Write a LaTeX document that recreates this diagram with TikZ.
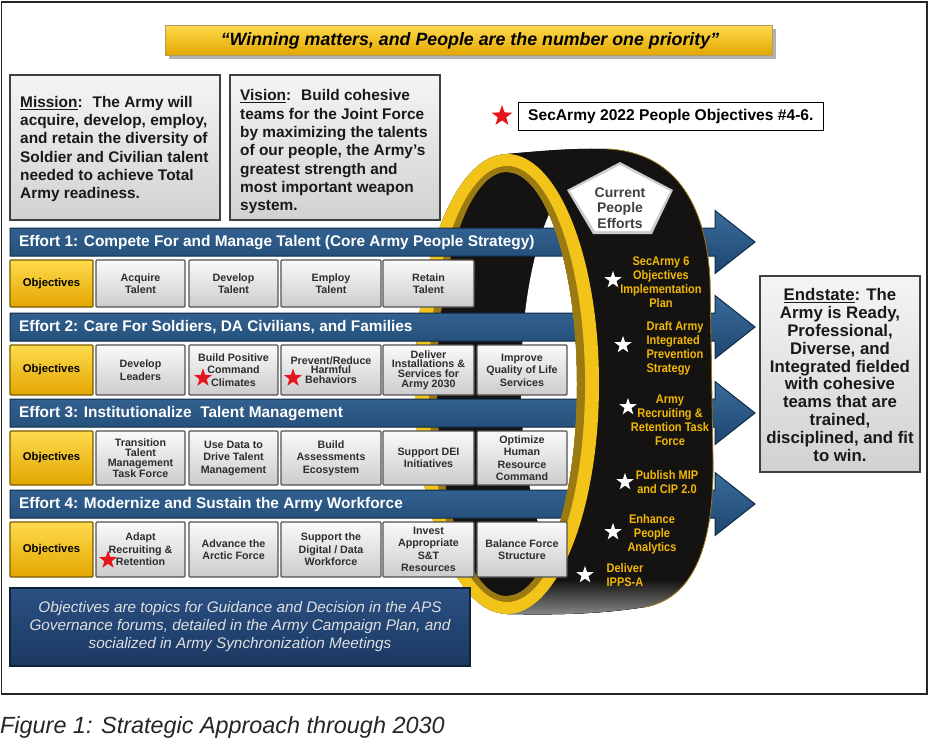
\documentclass[tikz,border=0pt]{standalone}
\usepackage{fontspec}
\setmainfont{Liberation Sans}
\newfontfamily\condfont[FakeStretch=0.88]{Liberation Sans}
\usetikzlibrary{shapes.geometric}
\definecolor{effA}{HTML}{3A6B9B}
\definecolor{effB}{HTML}{1E4670}
\definecolor{effD}{HTML}{0F2B47}
\definecolor{goldA}{HTML}{FFDB4D}
\definecolor{goldB}{HTML}{E2A600}
\definecolor{goldD}{HTML}{7A5C00}
\definecolor{rimgold}{HTML}{F2C318}
\definecolor{rimdark}{HTML}{9C7A12}
\definecolor{ringtxt}{HTML}{F2B705}
\definecolor{navyA}{HTML}{2B5083}
\definecolor{navyB}{HTML}{1B3861}
\definecolor{bandblk}{HTML}{141312}
\definecolor{starred}{HTML}{E8141B}
\tikzset{
 bevelbox/.style={draw=black!75, line width=1.6pt, top color=black!4, bottom color=black!18},
 graybox/.style={draw=black!68, line width=1.2pt, rounded corners=1pt, top color=black!2, bottom color=black!20},
 objbox/.style={draw=goldD, line width=1.2pt, rounded corners=1pt, top color=goldA, bottom color=goldB},
 boxtext/.style={align=center, inner sep=0pt, text=black!82, font=\bfseries\fontsize{10.7}{12.5}\selectfont},
 tighttext/.style={align=center, inner sep=0pt, text=black!82, font=\bfseries\fontsize{10.7}{9.8}\selectfont},
 objtext/.style={inner sep=0pt, font=\bfseries\fontsize{11.3}{13}\selectfont},
 effbar/.style={draw=effD, line width=1pt, top color=effA, bottom color=effB},
 efftext/.style={anchor=west, inner sep=0pt, text=white, font=\bfseries\fontsize{15.4}{17}\selectfont},
 bigtext/.style={align=left, inner sep=0pt, text=black!90, font=\bfseries\fontsize{15.4}{18.3}\selectfont},
 ringtext/.style={align=center, inner sep=0pt, text=ringtxt, font=\condfont\bfseries\fontsize{12.5}{14}\selectfont},
 wstar/.style={star, star points=5, star point ratio=2.5, fill=white, inner sep=0pt, minimum size=18pt},
 rstar/.style={star, star points=5, star point ratio=2.5, fill=starred, inner sep=0pt, minimum size=19pt},
 wA/.style={minimum width=83pt}, wB/.style={minimum width=89pt}, wC/.style={minimum width=89pt},
 wD/.style={minimum width=100pt}, wE/.style={minimum width=91pt}, wF/.style={minimum width=90pt},
 hA/.style={minimum height=47pt}, hB/.style={minimum height=50pt}, hC/.style={minimum height=54pt}, hD/.style={minimum height=55pt},
}
\def\bandpath{(507,154) .. controls (550,150) and (580,148) .. (607,149) .. controls (672,152) and (706,200) .. (710,280) -- (713,460) .. controls (714,545) and (694,598) .. (645,607) .. controls (600,614) and (560,615) .. (507,614)}
\begin{document}
\begin{tikzpicture}[x=1pt,y=-1pt]
\useasboundingbox (0,0) rectangle (930,747);
\fill[white] (0,0) rectangle (930,747);
\draw[line width=1.3pt, black!85] (1.5,2) rectangle (927,694);
% banner
\fill[black!30] (169,29) rectangle (776,59);
\node[draw=goldD!60, line width=0.6pt, top color=goldA, bottom color=goldB, minimum width=607pt, minimum height=30pt, inner sep=0pt] (banner) at (468.5,40) {};
\node[font=\bfseries\itshape\fontsize{17.8}{20}\selectfont, inner sep=0pt] (motto) at (470,41) {“Winning matters, and People are the number one priority”};
% mission / vision
\node[bevelbox, minimum width=210pt, minimum height=145pt] (missionbox) at (115,147.5) {};
\node[bigtext, anchor=north west] (mission) at (20,96) {\underline{Mission}:~ The Army will\\acquire, develop, employ,\\and retain the diversity of\\Soldier and Civilian talent\\needed to achieve Total\\Army readiness.};
\node[bevelbox, minimum width=210pt, minimum height=145pt] (visionbox) at (335,147.5) {};
\node[bigtext, anchor=north west] (vision) at (240,89.5) {\underline{Vision}:~ Build cohesive\\teams for the Joint Force\\by maximizing the talents\\of our people, the Army’s\\greatest strength and\\most important weapon\\system.};
% legend
\node[rstar, minimum size=22pt] (legstar) at (502,116) {};
\node[draw=black, line width=0.8pt, fill=white, minimum width=305pt, minimum height=28pt] (legbox) at (670.5,116) {};
\node[anchor=west, inner sep=0pt, font=\bfseries\fontsize{15.6}{17}\selectfont] (legtext) at (528,116.5) {SecArmy 2022 People Objectives \#4-6.};
% ring, back layer
\fill[bandblk] (507,384) ellipse [x radius=92, y radius=230];
\fill[bandblk] \bandpath -- cycle;
\fill[rimgold] (507,384) ellipse [x radius=92, y radius=230];
\fill[rimdark] (507,384) ellipse [x radius=78, y radius=218];
\fill[bandblk] (507,384) ellipse [x radius=70, y radius=212];
\begin{scope}
\clip (507,384) ellipse [x radius=70, y radius=212];
\fill[white] (591,384) ellipse [x radius=70, y radius=212];
\end{scope}
% effort bars
\path[effbar] (10,228) -- (715,228) -- (715,210.5) -- (755,242) -- (715,273.5) -- (715,256) -- (10,256) -- cycle;
\path[effbar] (10,313) -- (715,313) -- (715,295.5) -- (755,327) -- (715,358.5) -- (715,341) -- (10,341) -- cycle;
\path[effbar] (10,399) -- (715,399) -- (715,381.5) -- (755,413) -- (715,444.5) -- (715,427) -- (10,427) -- cycle;
\path[effbar] (10,490) -- (715,490) -- (715,472.5) -- (755,504) -- (715,535.5) -- (715,518) -- (10,518) -- cycle;
\node[efftext] (e1) at (19,242.5) {Effort 1: Compete For and Manage Talent (Core Army People Strategy)};
\node[efftext] (e2) at (19,327.5) {Effort 2: Care For Soldiers, DA Civilians, and Families};
\node[efftext] (e3) at (19,413.5) {Effort 3: Institutionalize~ Talent Management};
\node[efftext] (e4) at (19,504.5) {Effort 4: Modernize and Sustain the Army Workforce};
% ring, front layer
\begin{scope}
\clip \bandpath -- (507,596) arc[start angle=90, end angle=-90, x radius=70, y radius=212] -- cycle;
\fill[bandblk] (480,140) rectangle (720,620);
\fill[top color=bandblk, bottom color=black!45] (480,580) rectangle (720,616);
\fill[rimgold] (507,384) ellipse [x radius=92, y radius=230];
\fill[rimdark] (507,384) ellipse [x radius=78, y radius=218];
\end{scope}
\draw[rimdark, line width=0.8pt] (607,149) .. controls (672,152) and (706,200) .. (710,280) -- (713,460) .. controls (714,545) and (694,598) .. (645,607);
% pentagon
\fill[white!80!black] (620,162) -- (673,190) -- (652,234) -- (593,234) -- (567,190) -- cycle;
\fill[white] (620,165) -- (670,191) -- (650,231) -- (595,231) -- (570,191) -- cycle;
\node[align=center, inner sep=0pt, text=black!75, font=\bfseries\fontsize{14}{15.5}\selectfont] (cpe) at (620,208) {Current\\People\\Efforts};
% ring texts
\node[ringtext] (rt1) at (661,282) {SecArmy 6\\Objectives\\Implementation\\Plan};
\node[ringtext, align=left] (rt2) at (675,348) {Draft Army\\Integrated\\Prevention\\Strategy};
\node[ringtext] (rt3) at (670,420) {Army\\Recruiting \&\\Retention Task\\Force};
\node[ringtext] (rt4) at (667,482) {Publish MIP\\and CIP 2.0};
\node[ringtext] (rt5) at (652,534) {Enhance\\People\\Analytics};
\node[ringtext, align=left] (rt6) at (625,575) {Deliver\\IPPS-A};
\node[wstar] (s1) at (613,280) {};
\node[wstar] (s2) at (623,345) {};
\node[wstar] (s3) at (628,407) {};
\node[wstar] (s4) at (625,482) {};
\node[wstar] (s5) at (613,532) {};
\node[wstar] (s6) at (585,575) {};
% row 1
\node[objbox, objtext, wA, hA] (o1) at (51.5,283.5) {Objectives};
\node[graybox, boxtext, wB, hA] (b11) at (140.5,283.5) {Acquire\\Talent};
\node[graybox, boxtext, wC, hA] (b12) at (233.5,283.5) {Develop\\Talent};
\node[graybox, boxtext, wD, hA] (b13) at (331,283.5) {Employ\\Talent};
\node[graybox, boxtext, wE, hA] (b14) at (428.5,283.5) {Retain\\Talent};
% row 2
\node[objbox, objtext, wA, hB] (o2) at (51.5,370) {Objectives};
\node[graybox, boxtext, wB, hB] (b21) at (140.5,370) {Develop\\Leaders};
\node[graybox, boxtext, wC, hB] (b22) at (233.5,370) {Build Positive\\Command\\Climates};
\node[graybox, tighttext, wD, hB] (b23) at (331,370) {Prevent/Reduce\\Harmful\\Behaviors};
\node[graybox, tighttext, wE, hB] (b24) at (428.5,370) {Deliver\\Installations \&\\Services for\\Army 2030};
\node[graybox, boxtext, wF, hB] (b25) at (522,370) {Improve\\Quality of Life\\Services};
% row 3
\node[objbox, objtext, wA, hC] (o3) at (51.5,458) {Objectives};
\node[graybox, tighttext, wB, hC] (b31) at (140.5,458) {Transition\\Talent\\Management\\Task Force};
\node[graybox, boxtext, wC, hC] (b32) at (233.5,458) {Use Data to\\Drive Talent\\Management};
\node[graybox, boxtext, wD, hC] (b33) at (331,458) {Build\\Assessments\\Ecosystem};
\node[graybox, boxtext, wE, hC] (b34) at (428.5,458) {Support DEI\\Initiatives};
\node[graybox, boxtext, wF, hC] (b35) at (522,458) {Optimize\\Human\\Resource\\Command};
% row 4
\node[objbox, objtext, wA, hD] (o4) at (51.5,549.5) {Objectives};
\node[graybox, boxtext, wB, hD] (b41) at (140.5,549.5) {Adapt\\Recruiting \&\\Retention};
\node[graybox, boxtext, wC, hD] (b42) at (233.5,549.5) {Advance the\\Arctic Force};
\node[graybox, boxtext, wD, hD] (b43) at (331,549.5) {Support the\\Digital / Data\\Workforce};
\node[graybox, boxtext, wE, hD] (b44) at (428.5,549.5) {Invest\\Appropriate\\S\&T\\Resources};
\node[graybox, boxtext, wF, hD] (b45) at (522,549.5) {Balance Force\\Structure};
% red stars
\node[rstar] (rs1) at (203,378) {};
\node[rstar] (rs2) at (293,378) {};
\node[rstar] (rs3) at (108,560) {};
% endstate
\node[bevelbox, minimum width=160pt, minimum height=196pt] (endbox) at (840,374) {};
\node[align=center, inner sep=0pt, text=black!90, font=\bfseries\fontsize{16.8}{17.9}\selectfont] (endtext) at (840,375) {\underline{Endstate}: The\\Army is Ready,\\Professional,\\Diverse, and\\Integrated fielded\\with cohesive\\teams that are\\trained,\\disciplined, and fit\\to win.};
% bottom box
\node[draw=navyB!60!black, line width=1.2pt, top color=navyA, bottom color=navyB, minimum width=460pt, minimum height=78pt] (apsbox) at (240,627) {};
\node[align=center, inner sep=0pt, text=white!88!black, font=\itshape\fontsize{15.3}{18}\selectfont] (apstext) at (240,627) {Objectives are topics for Guidance and Decision in the APS\\Governance forums, detailed in the Army Campaign Plan, and\\socialized in Army Synchronization Meetings};
% caption
\node[anchor=west, inner sep=0pt, text=black!85, font=\itshape\fontsize{23.4}{26}\selectfont] (caption) at (0,727) {Figure 1: Strategic Approach through 2030};
\end{tikzpicture}
\end{document}
